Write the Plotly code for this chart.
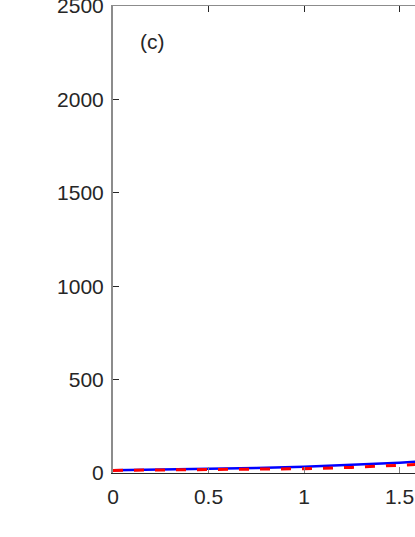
import plotly.graph_objects as go

# sample positions along x and the two curves
x_vals = [0, 0.25, 0.5, 0.75, 1.0, 1.25, 1.5, 1.6]
blue_vals = [15, 18, 22, 27, 34, 43, 55, 61]
red_vals = [14, 16, 18, 20, 23, 30, 41, 46]

x_ticks = [0, 0.5, 1, 1.5]
x_tick_text = ["0", "0.5", "1", "1.5"]
y_ticks = [0, 500, 1000, 1500, 2000, 2500]
panel_label = "(c)"

font_main = dict(family="Liberation Sans, Arial, sans-serif", size=21, color="#262626")

fig = go.Figure()

fig.add_trace(go.Scatter(
    x=x_vals, y=blue_vals, mode="lines",
    line=dict(color="#0000ff", width=2.5),
    showlegend=False,
))
fig.add_trace(go.Scatter(
    x=x_vals, y=red_vals, mode="lines",
    line=dict(color="#ff0000", width=3, dash="10px,11px"),
    showlegend=False,
))

# invisible trace to carry the top axis (mirror border with ticks)
fig.add_trace(go.Scatter(x=[0], y=[0], xaxis="x2", mode="markers",
                         marker=dict(opacity=0), showlegend=False, hoverinfo="skip"))

fig.add_annotation(
    x=0.13, y=2310, text=panel_label, showarrow=False,
    xanchor="left", yanchor="middle", font=font_main,
)

fig.update_layout(
    width=415, height=537,
    margin=dict(l=113, r=0, t=6, b=64, autoexpand=False),
    paper_bgcolor="white", plot_bgcolor="white",
    font=font_main,
    xaxis=dict(
        range=[0, 1.581], tickvals=x_ticks, ticktext=x_tick_text,
        showgrid=False, zeroline=False, automargin=False,
        showline=True, linecolor="#262626", linewidth=1,
        ticks="inside", ticklen=6, tickcolor="#808080", tickwidth=1,
        ticklabelstandoff=5, tickfont=font_main, ticklabeloverflow="allow",
    ),
    xaxis2=dict(
        overlaying="x", side="top", matches="x", range=[0, 1.581],
        tickvals=x_ticks, showticklabels=False, automargin=False,
        showgrid=False, zeroline=False,
        showline=True, linecolor="#8c8c8c", linewidth=1,
        ticks="inside", ticklen=6, tickcolor="#262626", tickwidth=1,
    ),
    yaxis=dict(
        range=[0, 2500], tickvals=y_ticks,
        showgrid=False, zeroline=False, automargin=False,
        showline=True, linecolor="#8c8c8c", linewidth=2,
        ticks="inside", ticklen=6, tickcolor="#262626", tickwidth=1,
        ticklabelstandoff=3, tickfont=font_main, ticklabeloverflow="allow",
    ),
)

# the page adds a default body margin; drop it so the figure sits at the corner
fig.write_html("out.html", config={"displayModeBar": False},
               post_script="document.body.style.margin='0';")
